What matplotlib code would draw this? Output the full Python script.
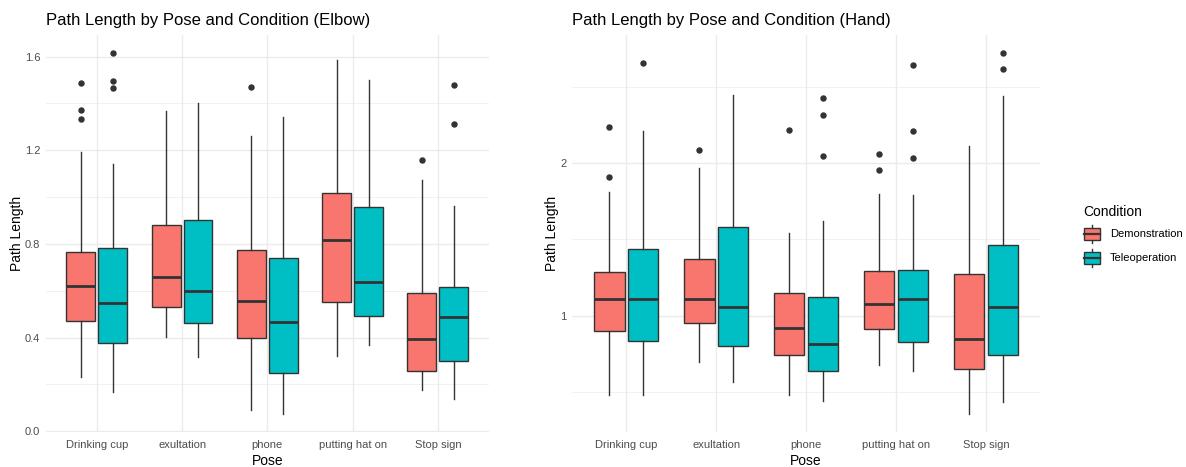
import numpy as np
import matplotlib
matplotlib.use("Agg")
import matplotlib.pyplot as plt
from matplotlib.patches import Rectangle, Patch
from matplotlib.lines import Line2D
from matplotlib.legend_handler import HandlerBase

plt.rcParams["font.family"] = ["Liberation Sans", "DejaVu Sans"]

poses = ["Drinking cup", "exultation", "phone", "putting hat on", "Stop sign"]
conditions = ["Demonstration", "Teleoperation"]
fill_colors = ["#F8766D", "#00BFC4"]

# Elbow path length summaries (per pose)
elbow_demo_whislo = [0.230, 0.401, 0.091, 0.320, 0.175]
elbow_demo_q1 = [0.470, 0.532, 0.399, 0.551, 0.259]
elbow_demo_med = [0.620, 0.657, 0.558, 0.817, 0.394]
elbow_demo_q3 = [0.767, 0.882, 0.773, 1.019, 0.591]
elbow_demo_whishi = [1.192, 1.366, 1.261, 1.586, 1.074]
elbow_demo_fliers = [[1.487, 1.372, 1.332], [], [1.468], [], [1.160]]

elbow_tele_whislo = [0.167, 0.319, 0.074, 0.367, 0.137]
elbow_tele_q1 = [0.379, 0.464, 0.248, 0.494, 0.302]
elbow_tele_med = [0.549, 0.600, 0.467, 0.639, 0.490]
elbow_tele_q3 = [0.784, 0.901, 0.740, 0.958, 0.615]
elbow_tele_whishi = [1.141, 1.400, 1.342, 1.501, 0.960]
elbow_tele_fliers = [[1.615, 1.494, 1.464], [], [], [], [1.477, 1.312]]

# Hand path length summaries (per pose)
hand_demo_whislo = [0.699, 0.812, 0.696, 0.799, 0.640]
hand_demo_q1 = [0.933, 0.969, 0.837, 0.942, 0.785]
hand_demo_med = [1.080, 1.077, 0.947, 1.054, 0.901]
hand_demo_q3 = [1.219, 1.291, 1.109, 1.225, 1.208]
hand_demo_whishi = [1.753, 1.955, 1.455, 1.740, 2.157]
hand_demo_fliers = [[1.879, 2.351], [2.118], [2.327], [2.086, 1.937], []]

hand_tele_whislo = [0.696, 0.740, 0.678, 0.778, 0.676]
hand_tele_q1 = [0.891, 0.870, 0.777, 0.886, 0.837]
hand_tele_med = [1.077, 1.042, 0.881, 1.077, 1.038]
hand_tele_q3 = [1.355, 1.498, 1.087, 1.231, 1.378]
hand_tele_whishi = [2.309, 2.723, 1.537, 1.729, 2.706]
hand_tele_fliers = [[3.149], [], [2.682, 2.490, 2.068], [3.120, 2.316, 2.046], [3.295, 3.069]]

EDGE = "#333333"
GRID = "#EBEBEB"
TICKTXT = "#4D4D4D"

TITLE_SIZE = 12.0
AXTITLE_SIZE = 10.0
TICK_SIZE = 8.0


def make_stats(whislo, q1, med, q3, whishi, fliers):
    return [dict(whislo=a, q1=b, med=c, q3=d, whishi=e, fliers=np.array(f))
            for a, b, c, d, e, f in zip(whislo, q1, med, q3, whishi, fliers)]


def draw_panel(ax, groups, title, log2=False):
    x = np.arange(1, len(poses) + 1)
    offsets = [-0.1875, 0.1875]
    allvals = []
    for stats, off, col in zip(groups, offsets, fill_colors):
        ax.bxp(stats, positions=x + off, widths=0.3375, patch_artist=True,
               showcaps=False, manage_ticks=False,
               boxprops=dict(facecolor=col, edgecolor=EDGE, linewidth=1.0),
               medianprops=dict(color=EDGE, linewidth=2.0, solid_capstyle="butt"),
               whiskerprops=dict(color=EDGE, linewidth=1.0),
               flierprops=dict(marker="o", markersize=3.6, markerfacecolor=EDGE,
                               markeredgecolor=EDGE, linestyle="none"))
        for s in stats:
            allvals += [s["whislo"], s["whishi"]] + list(s["fliers"])
    lo, hi = min(allvals), max(allvals)
    if log2:
        ax.set_yscale("log", base=2)
        llo, lhi = np.log2(lo), np.log2(hi)
        pad = 0.05 * (lhi - llo)
        ax.set_ylim(2 ** (llo - pad), 2 ** (lhi + pad))
        ax.set_yticks([1, 2])
        ax.set_yticklabels(["1", "2"])
        ax.set_yticks([2 ** -0.5, 2 ** 0.5, 2 ** 1.5], minor=True)
        ax.set_yticklabels([], minor=True)
    else:
        pad = 0.05 * (hi - lo)
        ax.set_ylim(lo - pad, hi + pad)
        ax.set_yticks([0.0, 0.4, 0.8, 1.2, 1.6])
        ax.set_yticklabels(["0.0", "0.4", "0.8", "1.2", "1.6"])
        ax.set_yticks([0.2, 0.6, 1.0, 1.4], minor=True)
    ax.set_xlim(0.4, len(poses) + 0.6)
    ax.set_xticks(x)
    ax.set_xticklabels(poses)
    ax.set_axisbelow(True)
    ax.grid(which="major", color=GRID, linewidth=1.0)
    ax.grid(which="minor", axis="y", color=GRID, linewidth=0.5)
    for sp in ax.spines.values():
        sp.set_visible(False)
    ax.tick_params(which="both", length=0, labelsize=TICK_SIZE,
                   labelcolor=TICKTXT)
    ax.tick_params(axis="x", pad=5.5)
    ax.tick_params(axis="y", pad=4)
    ax.set_title(title, loc="left", fontsize=TITLE_SIZE, pad=7)
    ax.set_xlabel("Pose", fontsize=AXTITLE_SIZE, labelpad=3)
    ax.set_ylabel("Path Length", fontsize=AXTITLE_SIZE)


class BoxKeyHandler(HandlerBase):
    def create_artists(self, legend, orig_handle, xdescent, ydescent,
                       width, height, fontsize, trans):
        x0, y0 = -xdescent, -ydescent
        fc = orig_handle.get_facecolor()
        whisk = Line2D([x0 + width / 2] * 2, [y0, y0 + height], color=EDGE,
                       linewidth=1.0, transform=trans)
        box = Rectangle((x0 + width * 0.04, y0 + height * 0.17), width * 0.92,
                        height * 0.66, facecolor=fc, edgecolor=EDGE,
                        linewidth=1.0, transform=trans)
        med = Line2D([x0 + width * 0.04, x0 + width * 0.96],
                     [y0 + height / 2] * 2, color=EDGE, linewidth=1.6,
                     transform=trans)
        return [whisk, box, med]


fig = plt.figure(figsize=(11.86, 4.67), dpi=100)
W, H = 1186, 467
ax1 = fig.add_axes([45.7 / W, 1 - 432 / H, 443.3 / W, 397 / H])
ax2 = fig.add_axes([572.3 / W, 1 - 432 / H, 467.7 / W, 397 / H])

draw_panel(ax1, [
    make_stats(elbow_demo_whislo, elbow_demo_q1, elbow_demo_med, elbow_demo_q3,
               elbow_demo_whishi, elbow_demo_fliers),
    make_stats(elbow_tele_whislo, elbow_tele_q1, elbow_tele_med, elbow_tele_q3,
               elbow_tele_whishi, elbow_tele_fliers),
], "Path Length by Pose and Condition (Elbow)")

draw_panel(ax2, [
    make_stats(hand_demo_whislo, hand_demo_q1, hand_demo_med, hand_demo_q3,
               hand_demo_whishi, hand_demo_fliers),
    make_stats(hand_tele_whislo, hand_tele_q1, hand_tele_med, hand_tele_q3,
               hand_tele_whishi, hand_tele_fliers),
], "Path Length by Pose and Condition (Hand)", log2=True)

ax1.yaxis.set_label_coords(-0.049, 0.5)
ax2.yaxis.set_label_coords(-0.029, 0.5)

handles = [Patch(facecolor=c, label=l) for c, l in zip(fill_colors, conditions)]
leg = fig.legend(handles=handles, title="Condition", loc="upper left",
                 bbox_to_anchor=(1078 / W, 1 - 199 / H), frameon=False,
                 fontsize=TICK_SIZE, title_fontsize=AXTITLE_SIZE,
                 handlelength=1.53, handleheight=2.12, handletextpad=0.85,
                 labelspacing=0.55, borderpad=0, alignment="left",
                 handler_map={Patch: BoxKeyHandler()})

fig.savefig("out.png", dpi=100, facecolor="white")
